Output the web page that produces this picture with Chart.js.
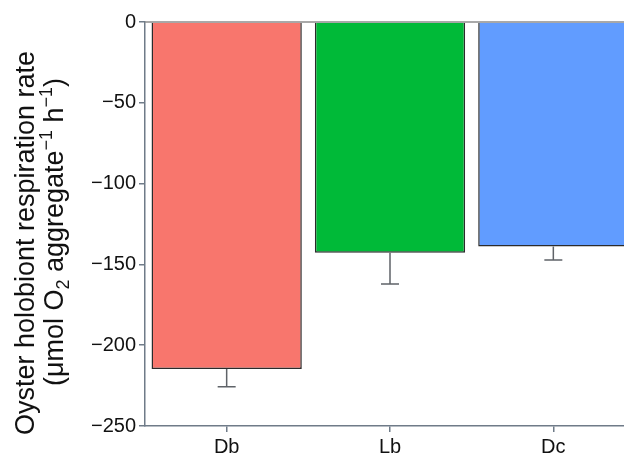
<!DOCTYPE html>
<html>
<head>
<meta charset="utf-8">
<script src="https://cdn.jsdelivr.net/npm/chart.js@4"></script>
<style>
  html, body { margin: 0; padding: 0; background: #fff; overflow: hidden; }
  #wrap { width: 624px; height: 455px; overflow: hidden; position: relative; }
  canvas { display: block; }
</style>
</head>
<body>
<div id="wrap"><canvas id="c" width="635" height="455"></canvas></div>
<script>
// Oyster holobiont respiration per treatment (mean and standard error)
const categories = ['Db', 'Lb', 'Dc'];
const meanRate = [-214.7, -142.8, -139.0];
const seRate = [11.0, 19.3, 8.3];
const yTickValues = [0, -50, -100, -150, -200, -250];

const barFill = ['#F8766D', '#00BA38', '#619CFF'];
const axisColor = '#6f7b88';
const FONT = '"Liberation Sans", Arial, Helvetica, sans-serif';

const fmt = v => (v < 0 ? '\u2212' + Math.abs(v) : String(v));

// Horizontal rule along the zero baseline
const zeroLine = {
  id: 'zeroLine',
  afterDatasetsDraw(chart) {
    const { ctx, chartArea, scales } = chart;
    const y = scales.y.getPixelForValue(0);
    ctx.save();
    ctx.strokeStyle = '#8c8c8c';
    ctx.lineWidth = 1.5;
    ctx.beginPath();
    ctx.moveTo(chartArea.left, y);
    ctx.lineTo(chartArea.right + 10, y);
    ctx.stroke();
    ctx.restore();
  }
};

// One-sided error bars below each bar (mean - se)
const errorBars = {
  id: 'errorBars',
  afterDatasetsDraw(chart) {
    const { ctx, scales } = chart;
    ctx.save();
    ctx.strokeStyle = '#5f6368';
    ctx.lineWidth = 1.5;
    meanRate.forEach((m, i) => {
      const x = scales.x.getPixelForValue(i);
      const y0 = scales.y.getPixelForValue(m);
      const y1 = scales.y.getPixelForValue(m - seRate[i]);
      ctx.beginPath();
      ctx.moveTo(x, y0);
      ctx.lineTo(x, y1);
      ctx.moveTo(x - 9, y1);
      ctx.lineTo(x + 9, y1);
      ctx.stroke();
    });
    ctx.restore();
  }
};

// Two-line rotated y-axis title with sub- and superscripts
const yTitle = {
  id: 'yTitle',
  afterDraw(chart) {
    const { ctx } = chart;
    const big = 27, small = 18;
    const lines = [
      { baseX: 34, centerY: 243, segs: [
        { t: 'Oyster holobiont respiration rate', s: big, d: 0 }
      ]},
      { baseX: 63, centerY: 232, segs: [
        { t: '(\u03BCmol O', s: big, d: 0 },
        { t: '2', s: small, d: 6 },
        { t: ' aggregate', s: big, d: 0 },
        { t: '\u22121', s: small, d: -11 },
        { t: ' h', s: big, d: 0 },
        { t: '\u22121', s: small, d: -11 },
        { t: ')', s: big, d: 0 }
      ]}
    ];
    ctx.save();
    ctx.fillStyle = '#111';
    ctx.textBaseline = 'alphabetic';
    ctx.textAlign = 'left';
    lines.forEach(line => {
      let total = 0;
      line.segs.forEach(sg => {
        ctx.font = sg.s + 'px ' + FONT;
        sg.w = ctx.measureText(sg.t).width;
        total += sg.w;
      });
      ctx.save();
      ctx.translate(line.baseX, line.centerY);
      ctx.rotate(-Math.PI / 2);
      let x = -total / 2;
      line.segs.forEach(sg => {
        ctx.font = sg.s + 'px ' + FONT;
        ctx.fillText(sg.t, x, sg.d);
        x += sg.w;
      });
      ctx.restore();
    });
    ctx.restore();
  }
};

new Chart(document.getElementById('c'), {
  type: 'bar',
  data: {
    labels: categories,
    datasets: [{
      data: meanRate,
      backgroundColor: barFill,
      borderColor: '#2b2b2b',
      borderWidth: 1.5,
      borderSkipped: 'start',
      categoryPercentage: 1.0,
      barPercentage: 0.92
    }]
  },
  options: {
    responsive: false,
    animation: false,
    devicePixelRatio: 1,
    layout: { padding: { top: 22, right: 0, bottom: 0, left: 0 } },
    plugins: {
      legend: { display: false },
      tooltip: { enabled: false },
      title: { display: false }
    },
    scales: {
      x: {
        offset: true,
        grid: { display: true, offset: false, drawOnChartArea: false, drawTicks: true, tickLength: 6, color: axisColor, lineWidth: 1.5 },
        border: { display: true, color: axisColor, width: 1.5 },
        ticks: { color: '#111', font: { family: FONT, size: 20 }, padding: 3 },
        afterFit(scale) { scale.height = 29; }
      },
      y: {
        min: -250,
        max: 0,
        afterBuildTicks(scale) { scale.ticks = yTickValues.map(v => ({ value: v })); },
        grid: { display: true, drawOnChartArea: false, drawTicks: true, tickLength: 6, color: axisColor, lineWidth: 1.5 },
        border: { display: true, color: axisColor, width: 1.5 },
        ticks: { color: '#111', font: { family: FONT, size: 20 }, padding: 3, callback: v => fmt(v) },
        afterFit(scale) { scale.width = 145; }
      }
    }
  },
  plugins: [zeroLine, errorBars, yTitle]
});
</script>
</body>
</html>
